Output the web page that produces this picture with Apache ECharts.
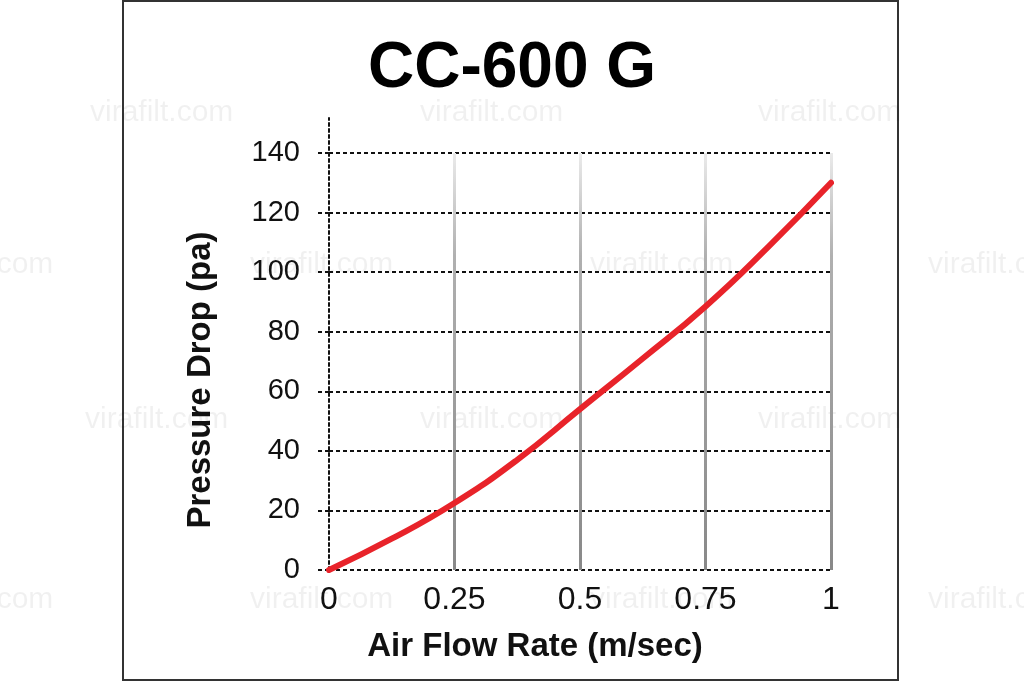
<!DOCTYPE html>
<html>
<head>
<meta charset="utf-8">
<script src="https://cdn.jsdelivr.net/npm/echarts@6/dist/echarts.min.js"></script>
<style>
html,body{margin:0;padding:0;background:#fff;}
#chart{width:1024px;height:682px;}
</style>
</head>
<body>
<div id="chart"></div>
<script>
// Data
var titleText = 'CC-600 G';
var xName = 'Air Flow Rate (m/sec)';
var yName = 'Pressure Drop (pa)';
var flowRate = [0, 0.125, 0.25, 0.375, 0.5, 0.625, 0.75, 0.875, 1];
var pressureDrop = [0, 10.5, 22.5, 37, 54, 71, 88.5, 108.5, 130];
var xTicks = [0, 0.25, 0.5, 0.75, 1];
var yTicks = [0, 20, 40, 60, 80, 100, 120, 140];

var watermarks = [
  [90,113],[420,113],[758,113],
  [-90,265],[250,265],[590,265],[928,265],
  [85,420],[420,420],[758,420],
  [-90,600],[250,600],[590,600],[928,600]
];

var chart = echarts.init(document.getElementById('chart'), null, {renderer:'canvas'});
var font = '"Liberation Sans", Arial, sans-serif';

var graphics = [{
  type:'rect', z:-1, silent:true,
  shape:{x:123, y:1, width:775, height:679},
  style:{fill:'#fff', stroke:'#333', lineWidth:2}
}];
watermarks.forEach(function(p){
  graphics.push({type:'text', z:0, silent:true, x:p[0], y:p[1],
    style:{text:'virafilt.com', fill:'rgba(0,0,0,0.06)', font:'30px ' + font, verticalAlign:'middle'}});
});

var data = flowRate.map(function(v,i){ return [v, pressureDrop[i]]; });

chart.setOption({
  backgroundColor:'#fff',
  animation:false,
  graphic: graphics,
  title:{
    text:titleText, left:'center', top:32,
    textStyle:{fontFamily:font, fontSize:64, fontWeight:'bold', color:'#000'}
  },
  grid:[
    {left:329, right:193, top:153, bottom:112},
    {left:329, right:193, top:118, bottom:112}
  ],
  xAxis:[{
    type:'value', gridIndex:0, min:xTicks[0], max:xTicks[xTicks.length-1], interval:0.25,
    axisLine:{show:false}, axisTick:{show:false},
    axisLabel:{fontFamily:font, fontSize:32, color:'#111', margin:14},
    splitLine:{show:true, showMinLine:false, lineStyle:{width:3,
      color:new echarts.graphic.LinearGradient(0,0,0,1,[
        {offset:0,color:'#ececec'},{offset:0.25,color:'#b0b0b0'},{offset:1,color:'#888'}])}},
    name:xName, nameLocation:'middle', nameGap:60,
    nameTextStyle:{fontFamily:font, fontSize:33, fontWeight:'bold', color:'#111', padding:[0,90,0,0]}
  },{
    type:'value', gridIndex:1, min:0, max:1, show:false
  }],
  yAxis:[{
    type:'value', gridIndex:0, min:yTicks[0], max:yTicks[yTicks.length-1], interval:20,
    axisLine:{show:false},
    axisTick:{show:true, length:14, lineStyle:{color:'#111', width:2, type:[4,3]}},
    axisLabel:{fontFamily:font, fontSize:29, color:'#111', margin:29},
    splitLine:{show:true, lineStyle:{color:'#111', width:2, type:[4,3]}},
    name:yName, nameLocation:'middle', nameGap:112, nameRotate:90,
    nameTextStyle:{fontFamily:font, fontSize:33, fontWeight:'bold', color:'#111', padding:[0,37,0,0]}
  },{
    type:'value', gridIndex:1, min:0, max:1,
    axisLine:{show:true, lineStyle:{color:'#111', width:2, type:[3,3]}},
    axisTick:{show:false}, axisLabel:{show:false}, splitLine:{show:false}
  }],
  series:[{
    type:'line', xAxisIndex:0, yAxisIndex:0, data:data, smooth:true,
    showSymbol:false, symbol:'none',
    lineStyle:{color:'#e8232a', width:6, cap:'round'}, z:5
  }]
});
</script>
</body>
</html>
